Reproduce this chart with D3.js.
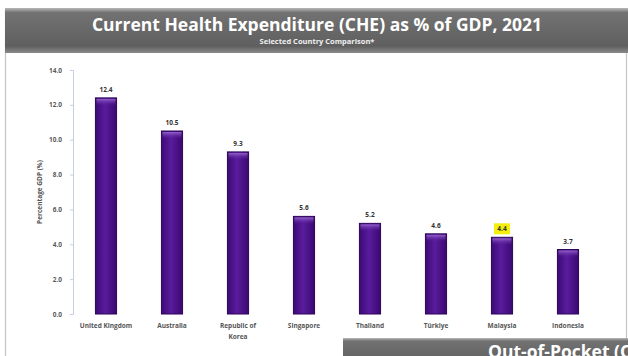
<!DOCTYPE html>
<html>
<head>
<meta charset="utf-8">
<script src="https://cdn.jsdelivr.net/npm/d3@7"></script>
<style>
  html, body { margin: 0; padding: 0; background: #ffffff; }
  svg { display: block; font-family: "Open Sans", "Noto Sans", sans-serif; }
</style>
</head>
<body>
<svg id="chart" width="628" height="356"></svg>
<script>
// Current health expenditure as % of GDP, 2021
const countries = ["United Kingdom", "Australia", "Republic of Korea", "Singapore", "Thailand", "Türkiye", "Malaysia", "Indonesia"];
const cheValues = [12.4, 10.5, 9.3, 5.6, 5.2, 4.6, 4.4, 3.7];
const yTicks = [0, 2, 4, 6, 8, 10, 12, 14];
const highlighted = ["Malaysia"];

const svg = d3.select("#chart");
const defs = svg.append("defs");

// Banner gradient (top-lit dark gray)
const bannerGrad = defs.append("linearGradient").attr("id", "banner").attr("x1", 0).attr("y1", 0).attr("x2", 0).attr("y2", 1);
bannerGrad.append("stop").attr("offset", "0%").attr("stop-color", "#b8b8b8");
bannerGrad.append("stop").attr("offset", "10%").attr("stop-color", "#727272");
bannerGrad.append("stop").attr("offset", "85%").attr("stop-color", "#5f5f5f");
bannerGrad.append("stop").attr("offset", "100%").attr("stop-color", "#8a8a8a");

// Bar gradient (cylindrical purple)
const barGrad = defs.append("linearGradient").attr("id", "bar").attr("x1", 0).attr("y1", 0).attr("x2", 1).attr("y2", 0);
barGrad.append("stop").attr("offset", "0%").attr("stop-color", "#3c0a74");
barGrad.append("stop").attr("offset", "45%").attr("stop-color", "#5a1c9e");
barGrad.append("stop").attr("offset", "100%").attr("stop-color", "#3a0870");

const barTop = defs.append("linearGradient").attr("id", "barTop").attr("x1", 0).attr("y1", 0).attr("x2", 0).attr("y2", 1);
barTop.append("stop").attr("offset", "0%").attr("stop-color", "#9a6ad0").attr("stop-opacity", 0.9);
barTop.append("stop").attr("offset", "100%").attr("stop-color", "#5a1c9e").attr("stop-opacity", 0);

// Panel frame
svg.append("rect").attr("x", 5.5).attr("y", 10).attr("width", 621).attr("height", 360)
  .attr("fill", "#ffffff").attr("stroke", "#c4c4c4").attr("stroke-width", 1.2);

// Title banner
svg.append("rect").attr("x", 5).attr("y", 8).attr("width", 623).attr("height", 45).attr("fill", "url(#banner)");
svg.append("text").attr("x", 317).attr("y", 31).attr("text-anchor", "middle")
  .attr("fill", "#ffffff").attr("font-size", 17.5).attr("font-weight", 700)
  .text("Current Health Expenditure (CHE) as % of GDP, 2021");
svg.append("text").attr("x", 317).attr("y", 44).attr("text-anchor", "middle")
  .attr("fill", "#f0f0f0").attr("font-size", 7.5).attr("font-weight", 700)
  .text("Selected Country Comparison*");

// Scales
const x = d3.scaleBand().domain(countries).range([73, 601]).paddingInner(0.68).paddingOuter(0.34);
const y = d3.scaleLinear().domain([0, 14]).range([314, 70]);

// Y axis
const yAxis = svg.append("g").attr("transform", "translate(73,0)")
  .call(d3.axisLeft(y).tickValues(yTicks).tickFormat(d3.format(".1f")).tickSize(3).tickPadding(8));
yAxis.select(".domain").attr("stroke", "#c6cfe2");
yAxis.selectAll(".tick line").attr("stroke", "#c6cfe2");
yAxis.selectAll(".tick text").attr("fill", "#5a5a5a").attr("font-size", 6.5).attr("font-weight", 700)
  .attr("font-family", "\"Open Sans\", sans-serif");

svg.append("text").attr("transform", "translate(42,192) rotate(-90)").attr("text-anchor", "middle")
  .attr("fill", "#555").attr("font-size", 6.5).attr("font-weight", 700)
  .text("Percentage GDP (%)");

// Bars
const bars = svg.append("g").selectAll("g").data(countries).join("g");
bars.append("rect")
  .attr("x", d => x(d)).attr("width", x.bandwidth())
  .attr("y", (d, i) => y(cheValues[i])).attr("height", (d, i) => y(0) - y(cheValues[i]))
  .attr("fill", "url(#bar)").attr("stroke", "#2c0558").attr("stroke-width", 1);
bars.append("rect")
  .attr("x", d => x(d) + 1).attr("width", x.bandwidth() - 2)
  .attr("y", (d, i) => y(cheValues[i]) + 1).attr("height", 7)
  .attr("fill", "url(#barTop)");

// Value labels
bars.each(function(d, i) {
  const g = d3.select(this);
  const cx = x(d) + x.bandwidth() / 2;
  const ty = y(cheValues[i]) - 6;
  if (highlighted.includes(d)) {
    g.append("rect").attr("x", cx - 8).attr("y", ty - 8).attr("width", 16).attr("height", 11)
      .attr("fill", "#f4ee0c");
  }
  g.append("text").attr("x", cx).attr("y", ty).attr("text-anchor", "middle")
    .attr("fill", "#333").attr("font-size", 6.5).attr("font-weight", 700)
    .text(d3.format(".1f")(cheValues[i]));
});

// Category labels
const xLabels = svg.append("g").selectAll("text").data(countries).join("text")
  .attr("x", d => x(d) + x.bandwidth() / 2).attr("y", 328).attr("text-anchor", "middle")
  .attr("fill", "#555").attr("font-size", 6.5).attr("font-weight", 700);
xLabels.each(function(d) {
  const t = d3.select(this);
  const lines = d === "Republic of Korea" ? ["Republic of", "Korea"] : [d];
  lines.forEach((ln, k) => t.append("tspan").attr("x", x(d) + x.bandwidth() / 2).attr("dy", k ? 11 : 0).text(ln));
});

// Next panel banner peeking in at the bottom right
svg.append("rect").attr("x", 343).attr("y", 338).attr("width", 285).attr("height", 30).attr("fill", "url(#banner)");
svg.append("text").attr("x", 488).attr("y", 358).attr("fill", "#ffffff")
  .attr("font-size", 17.5).attr("font-weight", 700).text("Out-of-Pocket (OOP)");
</script>
</body>
</html>
